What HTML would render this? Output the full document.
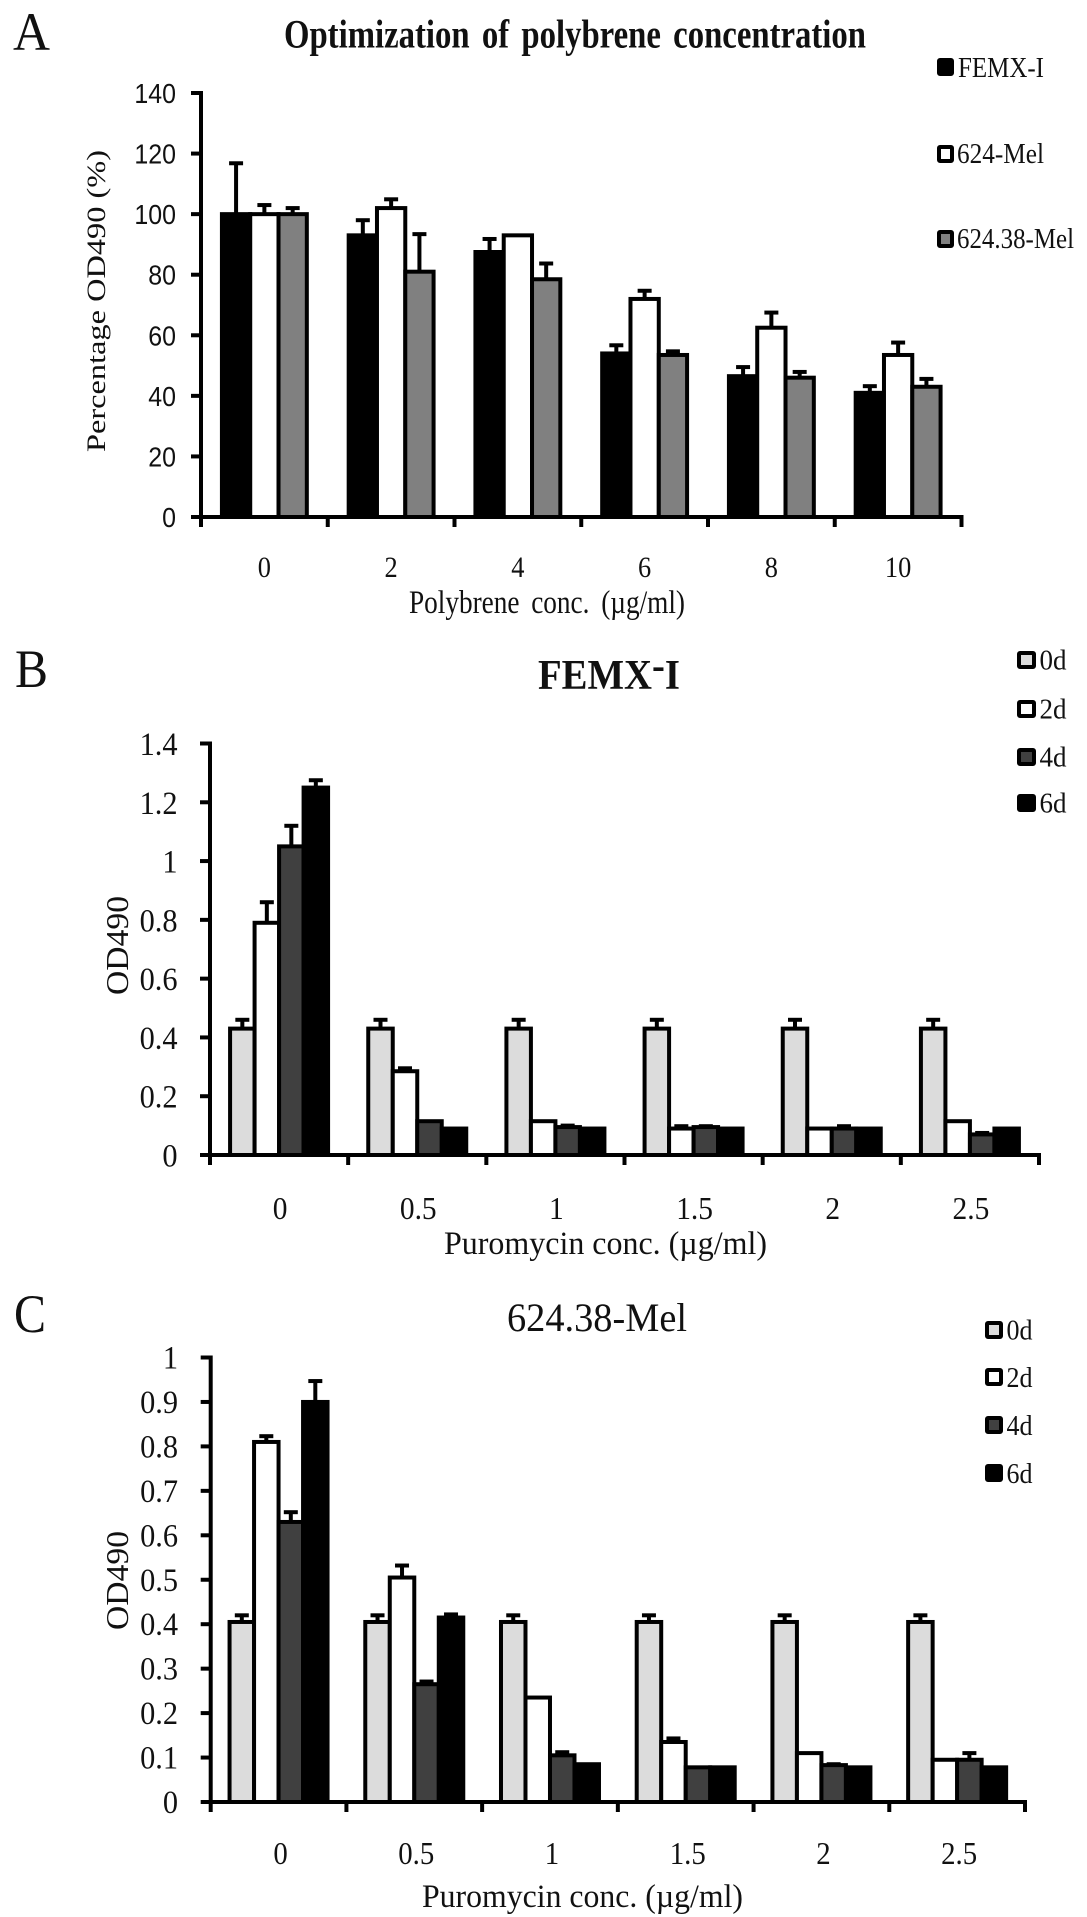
<!DOCTYPE html>
<html lang="en">
<head>
<meta charset="utf-8">
<title>Polybrene and puromycin optimization charts</title>
<style>
html,body{margin:0;padding:0;background:#fff;}
svg{display:block;}
text{font-family:"Liberation Serif",serif;fill:#111;}
</style>
</head>
<body>
<svg id="figure" xmlns="http://www.w3.org/2000/svg" width="1087" height="1917" viewBox="0 0 1087 1917">
  <rect width="1087" height="1917" fill="#fff"/>

  <text x="13" y="50" font-size="54" textLength="37" lengthAdjust="spacingAndGlyphs">A</text>
  <text x="284" y="47.5" font-size="40" font-weight="bold" word-spacing="5" textLength="582" lengthAdjust="spacingAndGlyphs">Optimization of polybrene concentration</text>
  <text transform="translate(105,452) rotate(-90)" font-size="26" textLength="302" lengthAdjust="spacingAndGlyphs" fill="#222">Percentage OD490 (%)</text>
  <text x="409" y="613" font-size="33" word-spacing="6" textLength="276" lengthAdjust="spacingAndGlyphs">Polybrene conc. (µg/ml)</text>

  <g>
    <rect x="939" y="60" width="13" height="14" rx="1" fill="#000" stroke="#000" stroke-width="4"/>
    <text x="958" y="77" font-size="29" textLength="86" lengthAdjust="spacingAndGlyphs">FEMX-I</text>
    <rect x="939" y="147" width="13" height="14" rx="1" fill="#fff" stroke="#000" stroke-width="4"/>
    <text x="957" y="163" font-size="29" textLength="87" lengthAdjust="spacingAndGlyphs">624-Mel</text>
    <rect x="939" y="232" width="13" height="14" rx="1" fill="#808080" stroke="#000" stroke-width="4"/>
    <text x="957" y="248" font-size="29" textLength="117" lengthAdjust="spacingAndGlyphs">624.38-Mel</text>
  </g>

  <text x="15" y="687" font-size="54" textLength="33" lengthAdjust="spacingAndGlyphs">B</text>
  <text x="538" y="689" font-size="42" font-weight="bold" textLength="142" lengthAdjust="spacingAndGlyphs">FEMX<tspan dy="-10">-</tspan><tspan dy="10">I</tspan></text>
  <text transform="translate(128,995) rotate(-90)" font-size="32" textLength="99" lengthAdjust="spacingAndGlyphs" fill="#222">OD490</text>
  <text x="444" y="1254" font-size="33" textLength="323" lengthAdjust="spacingAndGlyphs">Puromycin conc. (µg/ml)</text>

  <g>
    <rect x="1019" y="653" width="15" height="14" rx="1" fill="#dcdcdc" stroke="#000" stroke-width="4"/>
    <text x="1039.5" y="669.5" font-size="29" textLength="27" lengthAdjust="spacingAndGlyphs">0d</text>
    <rect x="1019" y="702" width="15" height="14" rx="1" fill="#fff" stroke="#000" stroke-width="4"/>
    <text x="1039.5" y="718.5" font-size="29" textLength="27" lengthAdjust="spacingAndGlyphs">2d</text>
    <rect x="1019" y="750" width="15" height="14" rx="1" fill="#404040" stroke="#000" stroke-width="4"/>
    <text x="1039.5" y="766.5" font-size="29" textLength="27" lengthAdjust="spacingAndGlyphs">4d</text>
    <rect x="1019" y="796" width="15" height="14" rx="1" fill="#000" stroke="#000" stroke-width="4"/>
    <text x="1039.5" y="812.5" font-size="29" textLength="27" lengthAdjust="spacingAndGlyphs">6d</text>
  </g>

  <text x="14" y="1332" font-size="54" textLength="32" lengthAdjust="spacingAndGlyphs">C</text>
  <text x="507" y="1331" font-size="40" textLength="180" lengthAdjust="spacingAndGlyphs">624.38-Mel</text>
  <text transform="translate(128,1630) rotate(-90)" font-size="32" textLength="99" lengthAdjust="spacingAndGlyphs" fill="#222">OD490</text>
  <text x="422" y="1907" font-size="33" textLength="321" lengthAdjust="spacingAndGlyphs">Puromycin conc. (µg/ml)</text>

  <g>
    <rect x="987" y="1323" width="14" height="14" rx="1" fill="#dcdcdc" stroke="#000" stroke-width="4"/>
    <text x="1006.5" y="1339.5" font-size="29" textLength="26" lengthAdjust="spacingAndGlyphs">0d</text>
    <rect x="987" y="1370" width="14" height="14" rx="1" fill="#fff" stroke="#000" stroke-width="4"/>
    <text x="1006.5" y="1387" font-size="29" textLength="26" lengthAdjust="spacingAndGlyphs">2d</text>
    <rect x="987" y="1418" width="14" height="14" rx="1" fill="#404040" stroke="#000" stroke-width="4"/>
    <text x="1006.5" y="1435" font-size="29" textLength="26" lengthAdjust="spacingAndGlyphs">4d</text>
    <rect x="987" y="1466" width="14" height="14" rx="1" fill="#000" stroke="#000" stroke-width="4"/>
    <text x="1006.5" y="1483" font-size="29" textLength="26" lengthAdjust="spacingAndGlyphs">6d</text>
  </g>
</svg>

<script>
// Chart A: polybrene
const polybreneCategories = ['0', '2', '4', '6', '8', '10'];
const polybreneTicks = ['0', '20', '40', '60', '80', '100', '120', '140'];
const femxValues = [100, 93, 87.5, 54, 46.5, 41];
const femxErrors = [16.8, 5, 4.3, 2.7, 3, 2.2];
const mel624Values = [100, 102, 93, 72, 62.5, 53.5];
const mel624Errors = [3, 2.9, 0, 2.7, 5, 4.1];
const mel62438Values = [100, 81, 78.5, 53.5, 46, 43];
const mel62438Errors = [2, 12.4, 5.2, 1.2, 1.9, 2.6];

// Chart B: FEMX-I puromycin
const femxPuroCategories = ['0', '0.5', '1', '1.5', '2', '2.5'];
const femxPuroTicks = ['0', '0.2', '0.4', '0.6', '0.8', '1', '1.2', '1.4'];
const femxDay0 = [0.43, 0.43, 0.43, 0.43, 0.43, 0.43];
const femxDay0Err = [0.03, 0.03, 0.03, 0.03, 0.03, 0.03];
const femxDay2 = [0.79, 0.285, 0.115, 0.09, 0.09, 0.115];
const femxDay2Err = [0.07, 0.01, 0, 0.008, 0, 0];
const femxDay4 = [1.05, 0.115, 0.095, 0.095, 0.09, 0.07];
const femxDay4Err = [0.07, 0, 0.005, 0.003, 0.008, 0.005];
const femxDay6 = [1.25, 0.09, 0.09, 0.09, 0.09, 0.09];
const femxDay6Err = [0.025, 0, 0, 0, 0, 0];

// Chart C: 624.38-Mel puromycin
const melPuroCategories = ['0', '0.5', '1', '1.5', '2', '2.5'];
const melPuroTicks = ['0', '0.1', '0.2', '0.3', '0.4', '0.5', '0.6', '0.7', '0.8', '0.9', '1'];
const melDay0 = [0.405, 0.405, 0.405, 0.405, 0.405, 0.405];
const melDay0Err = [0.015, 0.015, 0.015, 0.015, 0.015, 0.015];
const melDay2 = [0.81, 0.505, 0.235, 0.135, 0.11, 0.095];
const melDay2Err = [0.013, 0.027, 0, 0.008, 0, 0];
const melDay4 = [0.63, 0.265, 0.105, 0.078, 0.083, 0.095];
const melDay4Err = [0.022, 0.006, 0.007, 0, 0.002, 0.015];
const melDay6 = [0.9, 0.415, 0.085, 0.078, 0.078, 0.078];
const melDay6Err = [0.047, 0.007, 0, 0, 0, 0];

const SVG_NS = 'http://www.w3.org/2000/svg';
const figure = document.getElementById('figure');

function drawChart(cfg) {
  const group = document.createElementNS(SVG_NS, 'g');
  
  
  figure.appendChild(group);

  const n = cfg.categories.length;
  const step = (cfg.right - cfg.left) / n;
  const maxVal = Number(cfg.ticks[cfg.ticks.length - 1]);
  const yScale = function (v) { return cfg.zero - (v / maxVal) * (cfg.zero - cfg.top); };
  const xScale = function (i) { return cfg.left + i * step; };
  const barCount = cfg.series.length;
  const groupInset = (step - barCount * cfg.barWidth) / 2;

  cfg.series.forEach(function (s, si) {
    s.values.forEach(function (v, ci) {
      const x = xScale(ci) + groupInset + si * cfg.barWidth;
      const cx = x + cfg.barWidth / 2;
      const err = s.errors[ci];
      if (err > 0) {
        const stem = document.createElementNS(SVG_NS, 'line');
        
        
        stem.setAttribute('x1', cx);
        stem.setAttribute('x2', cx);
        stem.setAttribute('y1', yScale(v));
        stem.setAttribute('y2', yScale(v + err));
        stem.setAttribute('stroke', '#000');
        stem.setAttribute('stroke-width', 4);
        group.appendChild(stem);
        const cap = document.createElementNS(SVG_NS, 'line');
        
        
        cap.setAttribute('x1', cx - 7);
        cap.setAttribute('x2', cx + 7);
        cap.setAttribute('y1', yScale(v + err));
        cap.setAttribute('y2', yScale(v + err));
        cap.setAttribute('stroke', '#000');
        cap.setAttribute('stroke-width', 4);
        group.appendChild(cap);
      }
      const bar = document.createElementNS(SVG_NS, 'rect');
      
      
      bar.setAttribute('x', x);
      bar.setAttribute('y', yScale(v));
      bar.setAttribute('width', cfg.barWidth);
      bar.setAttribute('height', cfg.zero - yScale(v));
      bar.setAttribute('fill', s.fill);
      bar.setAttribute('stroke', '#000');
      bar.setAttribute('stroke-width', 4);
      group.appendChild(bar);
    });
  });

  const yAxis = document.createElementNS(SVG_NS, 'line');
  
  
  yAxis.setAttribute('x1', cfg.left);
  yAxis.setAttribute('x2', cfg.left);
  yAxis.setAttribute('y1', cfg.top - 2);
  yAxis.setAttribute('y2', cfg.zero + 2);
  yAxis.setAttribute('stroke', '#000');
  yAxis.setAttribute('stroke-width', 4);
  group.appendChild(yAxis);

  const xAxis = document.createElementNS(SVG_NS, 'line');
  
  
  xAxis.setAttribute('x1', cfg.left - 2);
  xAxis.setAttribute('x2', cfg.right + 2);
  xAxis.setAttribute('y1', cfg.zero);
  xAxis.setAttribute('y2', cfg.zero);
  xAxis.setAttribute('stroke', '#000');
  xAxis.setAttribute('stroke-width', 4);
  group.appendChild(xAxis);

  cfg.ticks.forEach(function (label) {
    const y = yScale(Number(label));
    const tick = document.createElementNS(SVG_NS, 'line');
    
    
    tick.setAttribute('x1', cfg.left - 10);
    tick.setAttribute('x2', cfg.left);
    tick.setAttribute('y1', y);
    tick.setAttribute('y2', y);
    tick.setAttribute('stroke', '#000');
    tick.setAttribute('stroke-width', 4);
    group.appendChild(tick);
    const text = document.createElementNS(SVG_NS, 'text');
    
    
    text.textContent = label;
    text.setAttribute('transform', 'translate(' + cfg.yLabelX + ',' + (y + cfg.yLabelShift) + ') scale(' + cfg.yLabelScale + ',1)');
    text.setAttribute('text-anchor', 'end');
    text.setAttribute('font-size', cfg.yLabelSize);
    text.style.fontFamily = cfg.yLabelFont;
    group.appendChild(text);
  });

  for (let i = 0; i <= n; i++) {
    const tick = document.createElementNS(SVG_NS, 'line');
    
    
    tick.setAttribute('x1', xScale(i));
    tick.setAttribute('x2', xScale(i));
    tick.setAttribute('y1', cfg.zero);
    tick.setAttribute('y2', cfg.zero + 10);
    tick.setAttribute('stroke', '#000');
    tick.setAttribute('stroke-width', 4);
    group.appendChild(tick);
  }

  cfg.categories.forEach(function (label, i) {
    const text = document.createElementNS(SVG_NS, 'text');
    
    
    text.textContent = label;
    text.setAttribute('transform', 'translate(' + (xScale(i) + step / 2 + cfg.xLabelShift) + ',' + cfg.xLabelY + ') scale(' + cfg.xLabelScale + ',1)');
    text.setAttribute('text-anchor', 'middle');
    text.setAttribute('font-size', cfg.xLabelSize);
    group.appendChild(text);
  });
}

drawChart({
  name: 'chart-a-polybrene',
  categories: polybreneCategories,
  ticks: polybreneTicks,
  series: [
    { values: femxValues, errors: femxErrors, fill: '#000' },
    { values: mel624Values, errors: mel624Errors, fill: '#fff' },
    { values: mel62438Values, errors: mel62438Errors, fill: '#808080' }
  ],
  left: 201, right: 961.5, top: 93, zero: 517, barWidth: 28.3,
  yLabelX: 176, yLabelShift: 10, yLabelSize: 28, yLabelScale: 0.89, yLabelFont: '"Liberation Sans", sans-serif',
  xLabelY: 577, xLabelSize: 30, xLabelScale: 0.88, xLabelShift: 0
});

drawChart({
  name: 'chart-b-femx',
  categories: femxPuroCategories,
  ticks: femxPuroTicks,
  series: [
    { values: femxDay0, errors: femxDay0Err, fill: '#dcdcdc' },
    { values: femxDay2, errors: femxDay2Err, fill: '#fff' },
    { values: femxDay4, errors: femxDay4Err, fill: '#404040' },
    { values: femxDay6, errors: femxDay6Err, fill: '#000' }
  ],
  left: 210, right: 1039, top: 743.5, zero: 1155, barWidth: 24.5,
  yLabelX: 177.5, yLabelShift: 11.5, yLabelSize: 33, yLabelScale: 0.92, yLabelFont: '"Liberation Serif", serif',
  xLabelY: 1219, xLabelSize: 32, xLabelScale: 0.92, xLabelShift: 1
});

drawChart({
  name: 'chart-c-624-38-mel',
  categories: melPuroCategories,
  ticks: melPuroTicks,
  series: [
    { values: melDay0, errors: melDay0Err, fill: '#dcdcdc' },
    { values: melDay2, errors: melDay2Err, fill: '#fff' },
    { values: melDay4, errors: melDay4Err, fill: '#404040' },
    { values: melDay6, errors: melDay6Err, fill: '#000' }
  ],
  left: 210.7, right: 1025, top: 1357.5, zero: 1802, barWidth: 24.5,
  yLabelX: 178, yLabelShift: 11, yLabelSize: 33, yLabelScale: 0.92, yLabelFont: '"Liberation Serif", serif',
  xLabelY: 1864, xLabelSize: 32, xLabelScale: 0.9, xLabelShift: 2
});
</script>
</body>
</html>
